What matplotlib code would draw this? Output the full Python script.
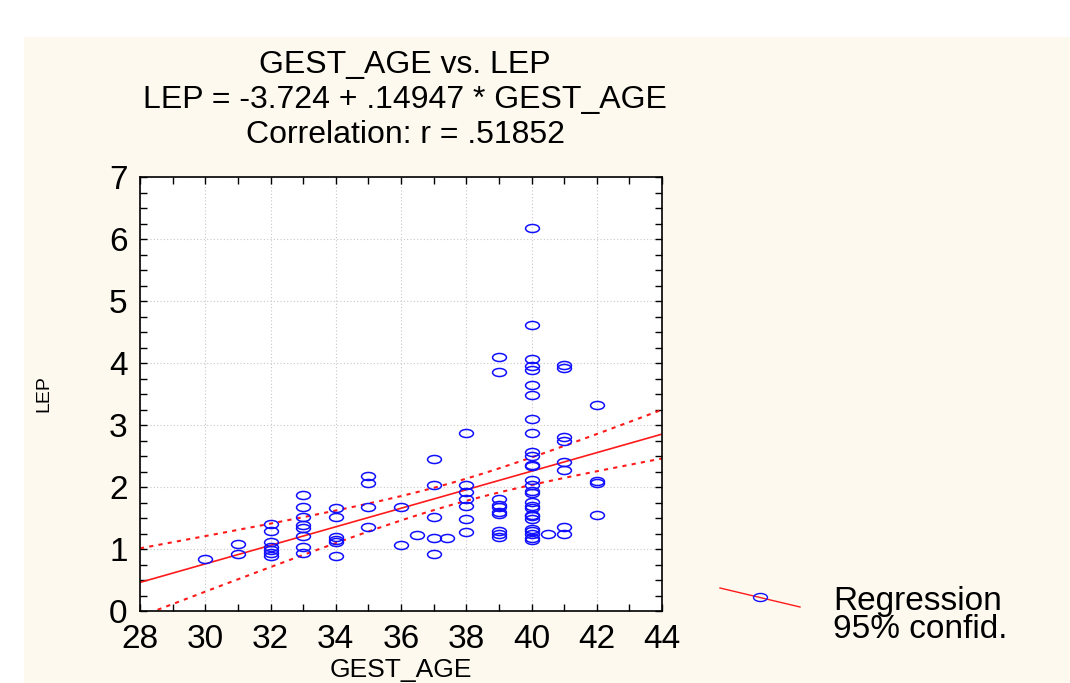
import numpy as np
import matplotlib
matplotlib.use("Agg")
import matplotlib.pyplot as plt
from matplotlib.path import Path
from matplotlib.transforms import Affine2D
from matplotlib.lines import Line2D
from matplotlib.patches import Rectangle
from matplotlib.ticker import MultipleLocator

# data (GEST_AGE, LEP)
gest_age = ([30] + [31] * 2 + [32] * 7 + [33] * 8 + [34] * 6 + [35] * 4 + [36] * 2
            + [36.5] + [37] * 5 + [37.4] + [38] * 7 + [39] * 10 + [40] * 28
            + [40.5] + [41] * 8 + [42] * 4)
lep = [0.84,
       1.08, 0.92,
       1.41, 1.29, 1.12, 1.04, 0.98, 0.93, 0.89,
       1.87, 1.67, 1.51, 1.38, 1.34, 1.21, 1.03, 0.94,
       1.66, 1.52, 1.19, 1.15, 1.11, 0.88,
       2.17, 2.07, 1.67, 1.36,
       1.68, 1.07,
       1.23,
       2.45, 2.04, 1.51, 1.18, 0.92,
       1.17,
       2.87, 2.03, 1.92, 1.80, 1.69, 1.48, 1.27,
       4.09, 3.86, 1.80, 1.71, 1.68, 1.59, 1.56, 1.29, 1.25, 1.19,
       6.17, 4.62, 4.07, 3.95, 3.89, 3.65, 3.48, 3.09, 2.87, 2.57, 2.50, 2.36,
       2.34, 2.12, 2.04, 1.94, 1.90, 1.76, 1.70, 1.66, 1.55, 1.53, 1.49, 1.33,
       1.29, 1.24, 1.18, 1.14,
       1.24,
       3.97, 3.92, 2.80, 2.75, 2.40, 2.28, 1.35, 1.24,
       3.33, 2.09, 2.06, 1.55]

intercept = -3.724
slope = 0.14947
title_lines = ["GEST_AGE vs. LEP",
               "LEP = -3.724 + .14947 * GEST_AGE",
               "Correlation: r = .51852"]
legend_labels = ["Regression", "95% confid."]

x = np.array(gest_age, dtype=float)
y = np.array(lep)

# regression line and 95% band of the mean
xs = np.linspace(28, 44, 200)
fit = intercept + slope * xs
n = len(x)
resid = y - (intercept + slope * x)
s = np.sqrt(np.sum(resid ** 2) / (n - 2))
sxx = np.sum((x - x.mean()) ** 2)
half = 1.986 * s * np.sqrt(1.0 / n + (xs - x.mean()) ** 2 / sxx)

plt.rcParams['font.family'] = ['Liberation Sans', 'DejaVu Sans']
big = 23

fig = plt.figure(figsize=(10.7, 6.83), dpi=100, facecolor='white')
cream = '#fdf9ef'
fig.patches.append(Rectangle((24 / 1070, 0), 1, 1 - 37 / 683, transform=fig.transFigure,
                             facecolor=cream, edgecolor='none', zorder=-10))

ax = fig.add_axes([140 / 1070, 1 - 611 / 683, 522 / 1070, 434 / 683])
ax.set_facecolor('white')

ellipse = Path.unit_circle().transformed(Affine2D().scale(1.0, 0.58))
ax.plot(x, y, linestyle='none', marker=ellipse, markersize=10,
        markerfacecolor='none', markeredgecolor='#1010ff', markeredgewidth=1.1, zorder=3)
ax.plot(xs, fit, color='#ff1a1a', linewidth=1.2, zorder=2)
ax.plot(xs, fit + half, color='#ff1a1a', linewidth=1.5, linestyle=(0, (2, 2.5)), zorder=2)
ax.plot(xs, fit - half, color='#ff1a1a', linewidth=1.5, linestyle=(0, (2, 2.5)), zorder=2)

ax.set_xlim(28, 44)
ax.set_ylim(0, 7)
ax.xaxis.set_major_locator(MultipleLocator(2))
ax.xaxis.set_minor_locator(MultipleLocator(1))
ax.yaxis.set_major_locator(MultipleLocator(1))
ax.yaxis.set_minor_locator(MultipleLocator(0.25))
ax.tick_params(which='both', direction='in', top=True, right=True, length=5, width=1)
ax.tick_params(axis='x', which='major', labelsize=24, pad=9)
ax.tick_params(axis='y', which='major', labelsize=24, pad=9)
ax.grid(True, which='major', color='#c8c8c8', linestyle=(0, (1, 2)), linewidth=0.8)
ax.set_axisbelow(True)
for sp in ax.spines.values():
    sp.set_linewidth(1.2)

ax.set_xlabel("GEST_AGE", fontsize=19)
ax.xaxis.set_label_coords(0.5, -(682 - 611) / 434)
ax.xaxis.label.set_va('bottom')
ax.set_ylabel("LEP", fontsize=14)
ax.yaxis.set_label_coords(-0.167, 0.5)

# stacked titles
for i, t in enumerate(title_lines):
    fig.text(405 / 1070, 1 - (65 + 35 * i) / 683, t, fontsize=big, ha='center', va='center')

# legend in the lower right corner
fig.add_artist(Line2D([720 / 1070, 800 / 1070], [1 - 588 / 683, 1 - 607 / 683],
                      transform=fig.transFigure, color='#ff1a1a', linewidth=1.0))
fig.add_artist(Line2D([760 / 1070], [1 - 597 / 683], transform=fig.transFigure,
                      marker=ellipse, markersize=10, markerfacecolor='none',
                      markeredgecolor='#1010ff', linestyle='none'))
fig.text(833 / 1070, 1 - 610 / 683, legend_labels[0], fontsize=24, ha='left', va='baseline')
fig.text(833 / 1070, 1 - 638 / 683, legend_labels[1], fontsize=24, ha='left', va='baseline')

fig.savefig("out.png", dpi=100, facecolor=fig.get_facecolor())
